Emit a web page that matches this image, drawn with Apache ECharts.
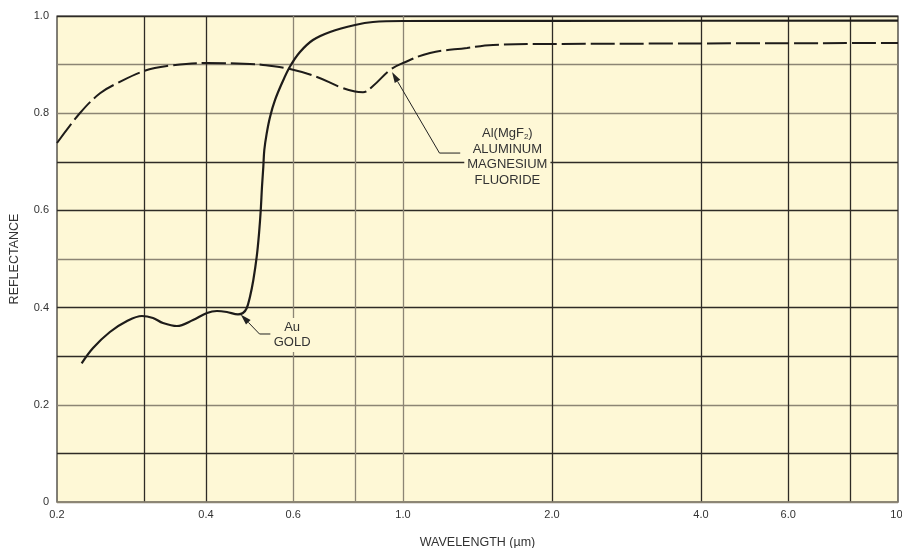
<!DOCTYPE html>
<html><head><meta charset="utf-8">
<script src="https://cdn.jsdelivr.net/npm/echarts@6/dist/echarts.min.js"></script>
<style>html,body{margin:0;padding:0;background:#fff}#c{width:902px;height:548px}</style>
</head><body><div id="c"></div>
<script>
// Gold (Au) reflectance curve
const goldWavelength = [0.2243,0.2365,0.2558,0.2770,0.2969,0.3126,0.3274,0.3495,0.3766,0.4018,0.4209,0.4409,0.4642,0.4750,0.4833,0.4908,0.4985,0.5064,0.5119,0.5160,0.5190,0.5222,0.5246,0.5305,0.5389,0.5515,0.5696,0.5912,0.6193,0.6578,0.7122,0.8000,0.8697,1.0,2.0,10];
const goldReflectance = [0.2854,0.3169,0.3498,0.3724,0.3827,0.3786,0.3683,0.3621,0.3745,0.3889,0.3930,0.3909,0.3862,0.3889,0.3986,0.4224,0.4568,0.5047,0.5529,0.6008,0.6488,0.6899,0.7243,0.7586,0.7928,0.8272,0.8621,0.8960,0.9259,0.9506,0.9671,0.9815,0.9877,0.9897,0.9900,0.9905];
// Aluminum + MgF2 reflectance curve
const alWavelength = [0.2,0.2226,0.2443,0.2644,0.2998,0.3336,0.4018,0.4908,0.5216,0.5912,0.6702,0.7460,0.8000,0.8302,0.8697,0.9414,1.0,1.134,1.347,1.520,2.01,10];
const alReflectance = [0.7387,0.8004,0.8409,0.8615,0.8868,0.8971,0.9033,0.9012,0.8992,0.8909,0.8745,0.8539,0.8445,0.8430,0.8560,0.8889,0.9033,0.9239,0.9342,0.9403,0.9424,0.9444];
// axis ticks
const xLabelValues = [0.2,0.4,0.6,1,2,4,6,10];
const xLabelTexts = ['0.2','0.4','0.6','1.0','2.0','4.0','6.0','10.'];
const xGridValues = [0.3,0.4,0.6,0.8,1,2,4,6,8];
const yLabelTexts = {'0':'0','0.2':'0.2','0.4':'0.4','0.6':'0.6','0.8':'0.8','1':'1.0'};
// annotation anchors (wavelength, reflectance)
const auArrow = [[0.4700,0.386],[0.513,0.3457],[0.540,0.3457]];
const auTextAt = [0.597,0.3436];
const alArrow = [[0.950,0.885],[1.185,0.718],[1.305,0.718]];
const alTextAt = [1.625,0.710];

const DARK = '#2e2b26', GRAY = '#8c8574';
const FONT = 'Liberation Sans, Arial, sans-serif';
const BG = '#fef8d6';
const chart = echarts.init(document.getElementById('c'), null, {renderer:'canvas'});
const zip = (a,b)=>a.map((v,i)=>[v,b[i]]);
const option = {
  animation:false,
  backgroundColor:'#ffffff',
  textStyle:{fontFamily:FONT},
  grid:{left:57,right:4,top:16,bottom:46,show:true,backgroundColor:BG,borderColor:DARK,borderWidth:1.2,
    containLabel:false,outerBoundsMode:'none'},
  xAxis:{
    type:'log', logBase:10, min:0.2, max:10,
    name:'WAVELENGTH (µm)', nameLocation:'middle', nameGap:34,
    nameTextStyle:{fontSize:12.5,color:'#333',fontFamily:FONT},
    axisLine:{show:true,lineStyle:{color:GRAY,width:1.5}},
    axisTick:{show:false, customValues:xGridValues},
    axisLabel:{customValues:xLabelValues, fontSize:11, color:'#333', margin:7, fontFamily:FONT,
      formatter:(v)=>{const i=xLabelValues.findIndex(x=>Math.abs(x-v)<1e-6);return i>=0?xLabelTexts[i]:'';}},
    splitLine:{show:true,lineStyle:{color:[DARK,DARK,GRAY,GRAY,GRAY,DARK,DARK,DARK,DARK],width:1.3}},
    minorSplitLine:{show:false}
  },
  yAxis:{
    type:'value', min:0, max:1, interval:0.1,
    name:'REFLECTANCE', nameLocation:'middle', nameGap:36, nameRotate:90,
    nameTextStyle:{fontSize:12.5,color:'#333',fontFamily:FONT},
    axisLine:{show:false}, axisTick:{show:false},
    axisLabel:{fontSize:11,color:'#333',margin:8,fontFamily:FONT,
      formatter:(v)=>{const k=String(Math.round(v*10)/10);return yLabelTexts[k]!==undefined?yLabelTexts[k]:'';}},
    splitLine:{show:true,lineStyle:{color:[GRAY,DARK,GRAY,DARK,DARK,GRAY,DARK,DARK,GRAY,GRAY,DARK],width:1.3}}
  },
  series:[
    {type:'line',name:'Au',data:zip(goldWavelength,goldReflectance),showSymbol:false,smooth:0.35,
      lineStyle:{color:'#1e1c1a',width:2.2},z:5},
    {type:'line',name:'Al',data:zip(alWavelength,alReflectance),showSymbol:false,smooth:0.4,
      lineStyle:{color:'#1e1c1a',width:2,type:[24,5]},z:5}
  ]
};
chart.setOption(option);

function P(p){return chart.convertToPixel({gridIndex:0},p);}
function arrowGraphics(pts){
  const pp = pts.map(P);
  const tip = pp[0], from = pp[1];
  const dx = from[0]-tip[0], dy = from[1]-tip[1], L = Math.hypot(dx,dy);
  const ux = dx/L, uy = dy/L, len = 11, hw = 3.2;
  const bx = tip[0]+ux*len, by = tip[1]+uy*len;
  return [
    {type:'polyline',shape:{points:[[bx,by]].concat(pp.slice(1))},style:{stroke:'#222',lineWidth:1,fill:null},z:10},
    {type:'polygon',shape:{points:[tip,[bx-uy*hw,by+ux*hw],[bx+uy*hw,by-ux*hw]]},style:{fill:'#222'},z:10}
  ];
}
const auT = P(auTextAt), alT = P(alTextAt);
const graphics = [].concat(arrowGraphics(auArrow), arrowGraphics(alArrow), [
  {type:'text',x:auT[0],y:auT[1],z:11,style:{text:'Au\nGOLD',align:'center',verticalAlign:'middle',
    font:'13px '+FONT,fill:'#333',lineHeight:15,backgroundColor:BG,padding:[2,3]}},
  {type:'text',x:alT[0],y:alT[1],z:11,style:{text:'{n|Al(MgF}{s|2}{n|)}\nALUMINUM\nMAGNESIUM\nFLUORIDE',align:'center',verticalAlign:'middle',
    font:'13px '+FONT,fill:'#333',lineHeight:15.5,backgroundColor:BG,padding:[2,3],
    rich:{n:{fontSize:13,fontFamily:FONT,fill:'#333',lineHeight:15.5},s:{fontSize:8,fontFamily:FONT,fill:'#333',padding:[7,0,0,0],lineHeight:15.5}}}}
]);
chart.setOption({graphic:graphics});
</script></body></html>
